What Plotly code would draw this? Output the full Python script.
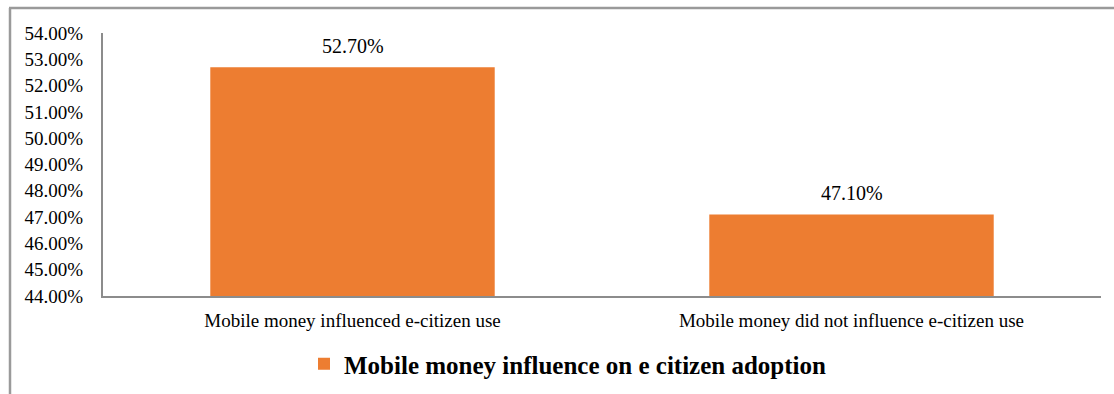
import plotly.graph_objects as go

categories = ["Mobile money influenced e-citizen use", "Mobile money did not influence e-citizen use"]
values = [0.527, 0.471]
series_name = "Mobile money influence on e citizen adoption"

FONT = "Liberation Serif, Times New Roman, serif"
ORANGE = "#ED7D31"

L, R, T, B = 103, 13, 33, 98
W, H = 1114, 394
PW, PH = W - L - R, H - T - B

def px_x(x):
    return (x - L) / PW

def px_y(y):
    return (H - B - y) / PH

fig = go.Figure()
fig.add_trace(go.Bar(
    x=categories, y=values, name=series_name,
    marker=dict(color=ORANGE, line=dict(width=0)),
    width=0.57,
    showlegend=True,
))

for c, v in zip(categories, values):
    fig.add_annotation(
        x=c, y=v, xref="x", yref="y", text=f"{v*100:.2f}%",
        showarrow=False, yanchor="bottom", yshift=8,
        font=dict(family=FONT, size=20, color="#000000"),
    )

fig.update_layout(
    width=W, height=H,
    margin=dict(l=L, r=R, t=T, b=B, autoexpand=False),
    paper_bgcolor="white", plot_bgcolor="white",
    font=dict(family=FONT, size=19, color="#000000"),
    showlegend=True,
    legend=dict(
        orientation="h", x=px_x(568), xanchor="center", y=px_y(364), yanchor="middle",
        font=dict(family=FONT, size=25, color="#000000", weight="bold"),
        itemwidth=30,
    ),
    xaxis=dict(
        showline=True, linecolor="#8c8c8c", linewidth=2,
        ticks="", showgrid=False, automargin=False, ticklabelstandoff=6,
        tickfont=dict(family=FONT, size=19),
    ),
    yaxis=dict(
        range=[0.44, 0.54], dtick=0.01, tickformat=".2%",
        showline=True, linecolor="#8c8c8c", linewidth=2,
        showgrid=False, ticks="", ticklabelstandoff=14, automargin=False,
        tickfont=dict(family=FONT, size=19),
        zeroline=False,
    ),
    shapes=[
        dict(type="line", xref="paper", yref="paper", x0=px_x(9), x1=px_x(W + 5), y0=px_y(8), y1=px_y(8),
             line=dict(color="#9a9a9a", width=2.5)),
        dict(type="line", xref="paper", yref="paper", x0=px_x(10), x1=px_x(10), y0=px_y(8), y1=px_y(H + 5),
             line=dict(color="#9a9a9a", width=2.5)),
    ],
)

fig.write_html(
    "out.html",
    config={"displayModeBar": False},
    post_script="document.body.style.margin='0';document.body.style.overflow='hidden';",
)
